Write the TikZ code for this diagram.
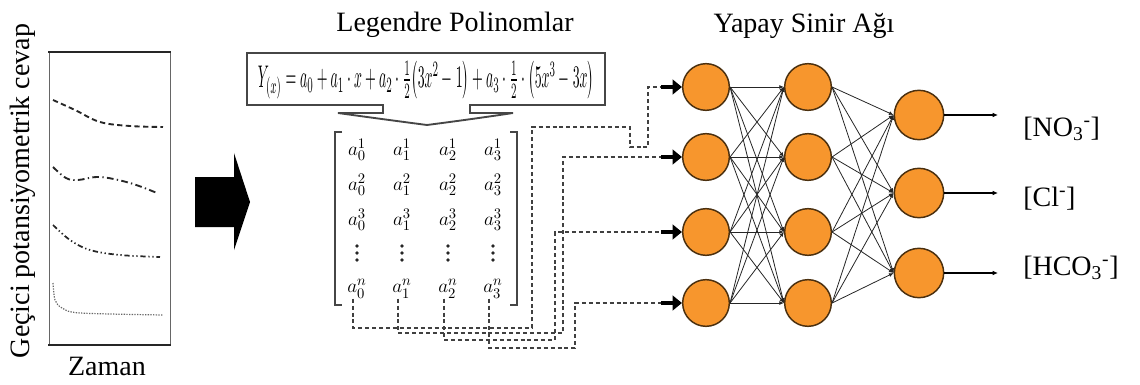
\documentclass[tikz,border=0pt]{standalone}
\usepackage{fontspec}
\setmainfont{Liberation Serif}
\usepackage{amsmath}
\usetikzlibrary{arrows.meta}
\definecolor{neur}{RGB}{247,150,45}
\definecolor{nborder}{RGB}{75,48,15}
\definecolor{lgrey}{RGB}{70,70,70}
\begin{document}
\begin{tikzpicture}[x=0.75pt,y=-0.75pt,
  lbl/.style={font=\fontsize{21}{24}\selectfont, inner sep=0pt},
  ent/.style={font=\fontsize{15}{17}\selectfont, inner sep=0pt},
  neuron/.style={circle, fill=neur, draw=nborder, line width=1.1pt, minimum size=35pt, inner sep=0pt},
  syn/.style={line width=0.6pt, draw=black!85, -{Latex[length=3.5pt,width=3pt]}},
  feed/.style={dash pattern=on 3pt off 2.2pt, line width=1.2pt, draw=black!75},
  inarrow/.style={line width=3.5pt, -{Triangle[length=7pt,width=11pt]}},
  outarrow/.style={line width=0.9pt, -{Latex[length=4pt,width=3.5pt]}}
]
\useasboundingbox (0,0) rectangle (1140,385);

% ---------- left panel ----------
\node[lbl, rotate=90] (ylab) at (23,191) {Geçici potansiyometrik cevap};
\node[lbl] (xlab) at (107,366) {Zaman};
\draw[black!60, line width=0.6pt] (49,52) -- (49,345) (170,52) -- (170,345);
\draw[black!85, line width=2.2pt] (48,52) -- (171,52) (48,345) -- (171,345);
\draw[line width=1.4pt, dash pattern=on 4pt off 2.5pt, black!85]
  plot[smooth, tension=0.6] coordinates {(53,100) (75,110) (100,122) (130,126) (163,127)};
\draw[line width=1.4pt, dash pattern=on 5pt off 2.5pt on 1pt off 2.5pt, black!85]
  plot[smooth, tension=0.6] coordinates {(53,167) (66,178) (78,180) (100,177) (130,183) (157,193)};
\draw[line width=1.3pt, dash pattern=on 4pt off 2pt on 1pt off 2pt on 1pt off 2pt, black!85]
  plot[smooth, tension=0.6] coordinates {(53,225) (70,240) (90,250) (120,255) (160,257)};
\draw[line width=0.9pt, dash pattern=on 1pt off 1pt, black!60]
  plot[smooth, tension=0.5] coordinates {(53,283) (55,300) (62,308) (80,313) (163,315)};

% ---------- block arrow ----------
\fill[black] (195,177) -- (234,177) -- (234,153) -- (250,202) -- (234,250) -- (234,227) -- (195,227) -- cycle;

% ---------- Legendre box ----------
\node[lbl] (t1) at (455,25) {Legendre Polinomlar};
\draw[lgrey, line width=1.4pt, line join=miter]
  (247,53) -- (605,53) -- (605,105) -- (470,105) -- (470,113) -- (513,113)
  .. controls (480,118) and (450,122) .. (427,125)
  .. controls (404,122) and (374,118) .. (338,113)
  -- (383,113) -- (383,105) -- (247,105) -- cycle;
\node[inner sep=0pt] (eq) at (426,80) {\resizebox{252pt}{20pt}{$Y_{(x)} = a_0 + a_1\cdot x + a_2\cdot\frac{1}{2}\bigl(3x^2-1\bigr) + a_3\cdot\frac{1}{2}\cdot\bigl(5x^3-3x\bigr)$}};

% ---------- matrix ----------
\draw[lgrey, line width=1.2pt] (342,132) -- (335,132) -- (335,305) -- (342,305);
\draw[lgrey, line width=1.2pt] (510,132) -- (517,132) -- (517,305) -- (510,305);
\foreach \r/\y in {1/150,2/185,3/220}{
  \foreach \c/\x in {0/357,1/402,2/448,3/493}{
    \node[ent] (e\r\c) at (\x,\y) {$a_{\c}^{\r}$};
  }
}
\foreach \c/\x in {0/357,1/402,2/448,3/493}{
  \foreach \dy in {246,253,260}{
    \fill[black!85] (\x,\dy) circle[radius=1.4pt];
  }
  \node[ent] (m\c) at (\x,289) {$a_{\c}^{n}$};
}

% ---------- network ----------
\node[lbl] (t2) at (804,26) {Yapay Sinir Ağı};
\foreach \i/\y in {1/87,2/157,3/232,4/303}{
  \node[neuron] (i\i) at (706,\y) {};
  \node[neuron] (h\i) at (808,\y) {};
  \coordinate (a\i) at (661,\y);
}
\foreach \i/\y in {1/115,2/193,3/273}{
  \node[neuron, minimum size=37pt] (o\i) at (919,\y) {};
  \coordinate (z\i) at (998,\y);
}
\foreach \i in {1,...,4}{
  \foreach \j in {1,...,4}{
    \draw[syn] (i\i.east) -- (h\j.west);
  }
  \foreach \j in {1,2,3}{
    \draw[syn] (h\i.east) -- (o\j.west);
  }
}
\foreach \j in {1,2,3}{
  \draw[outarrow] (o\j.east) -- (z\j);
}
\node[lbl, anchor=west] (y1) at (1023,129) {[NO\textsubscript{3}\textsuperscript{-}]};
\node[lbl, anchor=west] (y2) at (1023,199) {[Cl\textsuperscript{-}]};
\node[lbl, anchor=west] (y3) at (1023,268) {[HCO\textsubscript{3}\textsuperscript{-}]};

% ---------- dashed feeds ----------
\draw[feed] ([xshift=-3pt]m0.south) -- ([xshift=-3pt]m0.south |- 0,328) -- (532,328) -- (532,127) -- (630,127) -- (630,147) -- (648,147) -- (648,87) -- (a1);
\draw[feed] ([xshift=-3pt]m1.south) -- ([xshift=-3pt]m1.south |- 0,333) -- (563,333) -- (563,157) -- (a2);
\draw[feed] ([xshift=-3pt]m2.south) -- ([xshift=-3pt]m2.south |- 0,340) -- (555,340) -- (555,232) -- (a3);
\draw[feed] ([xshift=-3pt]m3.south) -- ([xshift=-3pt]m3.south |- 0,348) -- (575,348) -- (575,303) -- (a4);
\foreach \i in {1,...,4}{
  \draw[inarrow] (a\i) -- (i\i.west);
}
\end{tikzpicture}
\end{document}
